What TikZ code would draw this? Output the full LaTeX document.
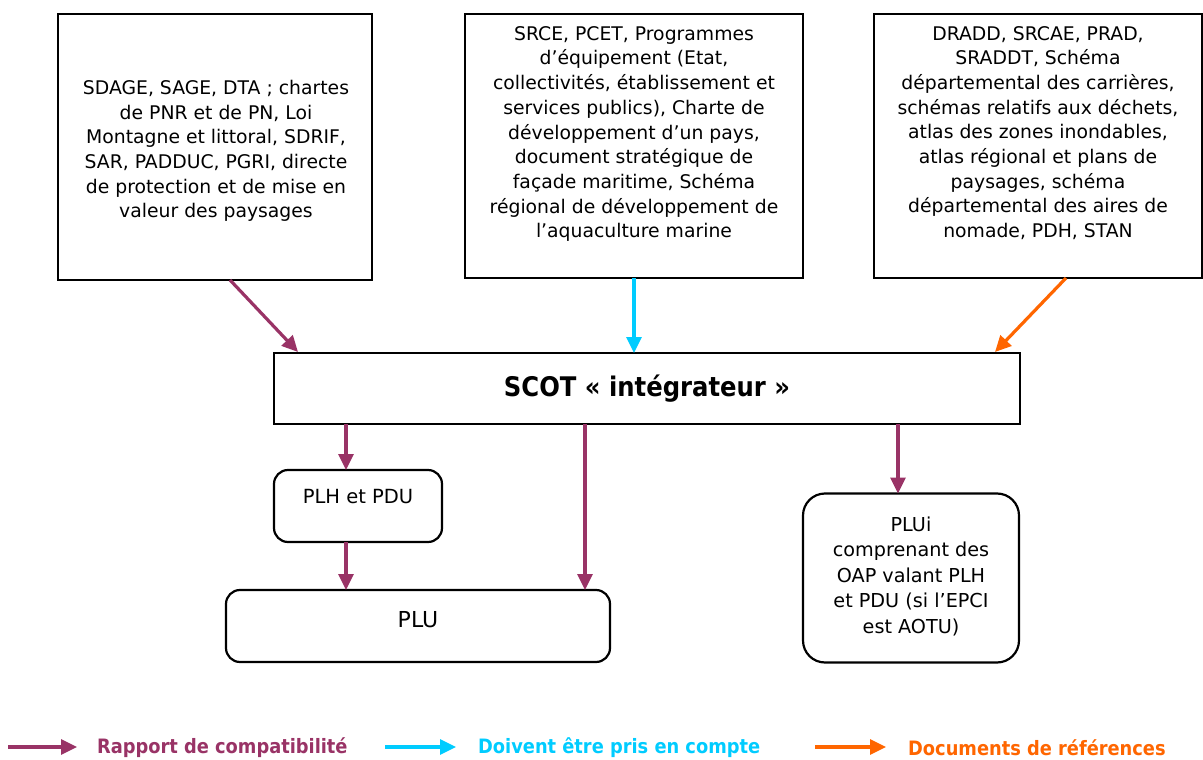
\documentclass[tikz,border=0pt]{standalone}
\usepackage{fontspec}
\setmainfont{DejaVu Sans}
\newfontfamily\condfont{DejaVu Sans Condensed}
\usetikzlibrary{arrows.meta}
\definecolor{compat}{HTML}{993366}
\definecolor{prise}{HTML}{00CCFF}
\definecolor{refer}{HTML}{FF6600}
\begin{document}
\begin{tikzpicture}[x=1pt,y=-1pt,
  box/.style={draw=black,line width=2.2pt,inner sep=0pt,outer sep=0pt},
  rbox/.style={box,rounded corners=14pt},
  txt/.style={align=center,font=\fontsize{18.8}{24.7}\selectfont,inner sep=0pt},
  arr/.style={line width=3.2pt,-{Triangle[length=16pt,width=15pt]}},
  legtxt/.style={font=\condfont\fontsize{19.8}{22}\selectfont\bfseries,anchor=west,inner sep=0pt}]
\useasboundingbox[fill=white] (0,0) rectangle (1203,760);
% top boxes
\node[box,minimum width=314pt,minimum height=266pt] (b1) at (215,147) {};
\node[txt] (b1t) at (216,151) {SDAGE, SAGE, DTA ; chartes\\ de PNR et de PN, Loi\\ Montagne et littoral, SDRIF,\\ SAR, PADDUC, PGRI, directe\\ de protection et de mise en\\ valeur des paysages};
\node[box,minimum width=338pt,minimum height=264pt] (b2) at (634,146) {};
\node[txt] (b2t) at (634,134) {SRCE, PCET, Programmes\\ d’équipement (Etat,\\ collectivités, établissement et\\ services publics), Charte de\\ développement d’un pays,\\ document stratégique de\\ façade maritime, Schéma\\ régional de développement de\\ l’aquaculture marine};
\node[box,minimum width=328pt,minimum height=264pt] (b3) at (1038,146) {};
\node[txt] (b3t) at (1038,133) {DRADD, SRCAE, PRAD,\\ SRADDT, Schéma\\ départemental des carrières,\\ schémas relatifs aux déchets,\\ atlas des zones inondables,\\ atlas régional et plans de\\ paysages, schéma\\ départemental des aires de\\ nomade, PDH, STAN};
% SCOT
\node[box,minimum width=746pt,minimum height=71pt,font=\condfont\fontsize{27}{30}\selectfont\bfseries] (scot) at (647,388.5) {SCOT « intégrateur »};
% lower boxes
\node[rbox,minimum width=168pt,minimum height=72pt] (plh) at (358,506) {};
\node[txt,font=\fontsize{19.5}{22}\selectfont] (plht) at (358,497) {PLH et PDU};
\node[rbox,minimum width=384pt,minimum height=72pt,font=\fontsize{22}{24}\selectfont] (plu) at (418,626) {};
\node[txt,font=\fontsize{22}{24}\selectfont] (plut) at (418,620) {PLU};
\node[rbox,rounded corners=22pt,minimum width=216pt,minimum height=169pt] (plui) at (911,578) {};
\node[txt,font=\fontsize{19.2}{25.5}\selectfont] (pluit) at (911,576) {PLUi\\ comprenant des\\ OAP valant PLH\\ et PDU (si l’EPCI\\ est AOTU)};
% connector ends
\coordinate (a1s) at (230,280);
\coordinate (a1e) at (298,352);
\coordinate (a3s) at (1066,278);
\coordinate (a3e) at (995,352);
\coordinate (s1) at (346,424);
\coordinate (s2) at (585,424);
\coordinate (s3) at (898,424);
% connectors
\draw[arr,compat] (a1s) -- (a1e);
\draw[arr,prise] (b2.south) -- (b2.south |- scot.north);
\draw[arr,refer] (a3s) -- (a3e);
\draw[arr,compat] (s1) -- (s1 |- plh.north);
\draw[arr,compat] (plh.south -| s1) -- (s1 |- plu.north);
\draw[arr,compat] (s2) -- (s2 |- plu.north);
\draw[arr,compat] (s3) -- (s3 |- plui.north);
% legend
\coordinate (l1a) at (8,747); \coordinate (l1b) at (77,747);
\coordinate (l2a) at (385,747); \coordinate (l2b) at (456,747);
\coordinate (l3a) at (815,747); \coordinate (l3b) at (886,747);
\draw[arr,compat] (l1a) -- (l1b);
\draw[arr,prise] (l2a) -- (l2b);
\draw[arr,refer] (l3a) -- (l3b);
\node[legtxt,text=compat] (lt1) at (97,747.5) {Rapport de compatibilité};
\node[legtxt,text=prise] (lt2) at (478,747.5) {Doivent être pris en compte};
\node[legtxt,text=refer] (lt3) at (908,747.5) {Documents de références};
\end{tikzpicture}
\end{document}
